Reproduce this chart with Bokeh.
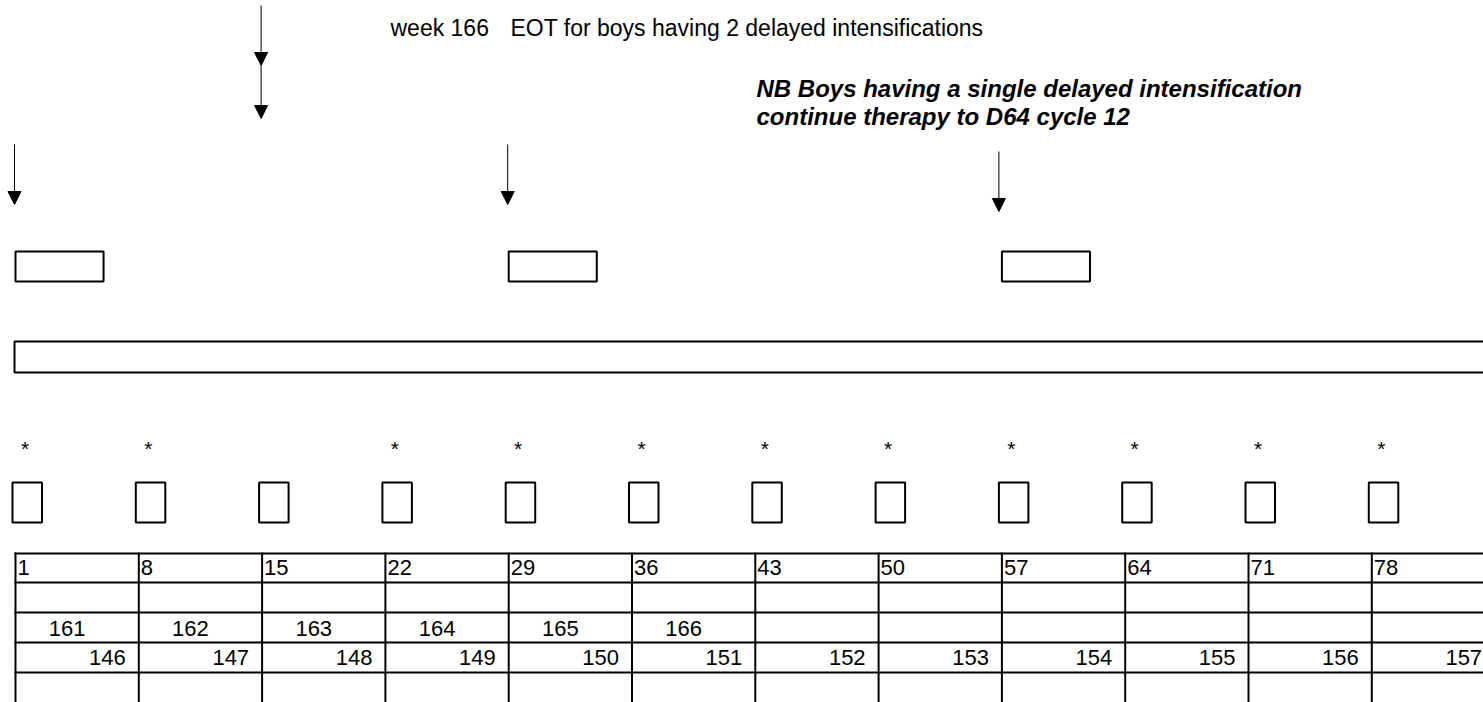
from bokeh.plotting import figure
from bokeh.models import Range1d, Arrow, NormalHead, ColumnDataSource
from bokeh.embed import file_html
from bokeh.resources import INLINE
from bokeh.core.properties import value

# ---------------- data ----------------
week_start_days = [1, 8, 15, 22, 29, 36, 43, 50, 57, 64, 71, 78]
day_labels = ["1", "8", "15", "22", "29", "36", "43", "50", "57", "64", "71", "78"]
eot_week_labels = ["161", "162", "163", "164", "165", "166"]
cycle_week_labels = ["146", "147", "148", "149", "150", "151",
                     "152", "153", "154", "155", "156", "157"]
star_days = [1, 8, 22, 29, 36, 43, 50, 57, 64, 71, 78]
box_days = [1, 8, 15, 22, 29, 36, 43, 50, 57, 64, 71, 78]
arrow_days = [1, 15, 29, 57]
block_start_days = [1, 29, 57]
block_length_days = 5
bar_start_day = 1
bar_end_day = 85

# ---------------- layout ----------------
PX_PER_DAY = 123.3 / 7.0
DAY1_PX = 15.0
W, H = 1483, 702


def px(d):
    return d / PX_PER_DAY


x0 = 1 + (0 - DAY1_PX) / PX_PER_DAY
x1 = 1 + (W - DAY1_PX) / PX_PER_DAY

p = figure(width=W, height=H, x_range=Range1d(x0, x1), y_range=Range1d(H, 0),
           output_backend="svg", toolbar_location=None, min_border=0,
           x_axis_location=None, y_axis_location=None)
p.grid.visible = False
p.outline_line_color = None
p.background_fill_color = "white"
p.border_fill_color = "white"

FONT = value("Liberation Sans")

# ---- arrows ----
a_x, a_y0, a_y1 = [], [], []
for d in arrow_days:
    xx = d - px(1)
    if d == 15:
        a_x += [xx, xx]
        a_y0 += [5, 65]
        a_y1 += [65, 118]
    elif d == 57:
        a_x.append(d - px(3))
        a_y0.append(151)
        a_y1.append(211)
    else:
        a_x.append(xx)
        a_y0.append(144)
        a_y1.append(204)
asrc = ColumnDataSource(dict(x=a_x, y0=a_y0, y1=a_y1))
p.add_layout(Arrow(x_start="x", y_start="y0", x_end="x", y_end="y1", source=asrc,
                   line_color="black", line_width=1,
                   end=NormalHead(size=13, fill_color="black", line_color="black",
                                  line_width=1)))

# ---- texts at top ----
p.text(x=[1 + px(390 - DAY1_PX)], y=[27], text=["week 166"],
       text_font=FONT, text_font_size="23px", text_color="black",
       text_align="left", text_baseline="middle")
p.text(x=[1 + px(510 - DAY1_PX)], y=[27], text=["EOT for boys having 2 delayed intensifications"],
       text_font=FONT, text_font_size="23px", text_color="black",
       text_align="left", text_baseline="middle")
p.text(x=[1 + px(756 - DAY1_PX)] * 2, y=[87.5, 115.5],
       text=["NB Boys having a single delayed intensification",
             "continue therapy to D64 cycle 12"],
       text_font=FONT, text_font_size="24px", text_font_style="bold italic",
       text_color="black", text_align="left", text_baseline="middle")

# ---- wide blocks ----
p.quad(left=block_start_days, right=[d + block_length_days for d in block_start_days],
       top=[251] * len(block_start_days), bottom=[281] * len(block_start_days),
       fill_color=None, line_color="black", line_width=2)

# ---- long bar ----
p.quad(left=[bar_start_day - px(1)], right=[bar_end_day], top=[341], bottom=[372],
       fill_color=None, line_color="black", line_width=2)

# ---- stars and small boxes ----
p.text(x=[d + px(9.5) for d in star_days], y=[448] * len(star_days),
       text=["*"] * len(star_days), text_font=FONT, text_font_size="21px",
       text_align="center", text_baseline="middle", text_color="black")
p.quad(left=[d - px(3) for d in box_days], right=[d + px(26.5) for d in box_days],
       top=[482] * len(box_days), bottom=[522] * len(box_days),
       fill_color=None, line_color="black", line_width=2)

# ---- table ----
row_lines = [553, 582, 612, 642, 672]
col_edges = week_start_days + [week_start_days[-1] + 7]
p.segment(x0=[col_edges[0] - px(1)] * len(row_lines), x1=[col_edges[-1] + 2] * len(row_lines),
          y0=row_lines, y1=row_lines, line_color="black", line_width=2)
p.segment(x0=col_edges, x1=col_edges, y0=[552] * len(col_edges), y1=[720] * len(col_edges),
          line_color="black", line_width=2)

p.text(x=[d + px(2) for d in week_start_days], y=[567] * len(week_start_days),
       text=day_labels, text_font=FONT, text_font_size="22px", text_color="black",
       text_align="left", text_baseline="middle")
p.text(x=[d + 3.5 - px(10) for d in week_start_days[:len(eot_week_labels)]],
       y=[628] * len(eot_week_labels), text=eot_week_labels,
       text_font=FONT, text_font_size="22px", text_color="black",
       text_align="center", text_baseline="middle")
p.text(x=[d + 7 - px(13) for d in week_start_days], y=[657] * len(week_start_days),
       text=cycle_week_labels, text_font=FONT, text_font_size="22px", text_color="black",
       text_align="right", text_baseline="middle")

open("out.html", "w").write(file_html(p, INLINE))
